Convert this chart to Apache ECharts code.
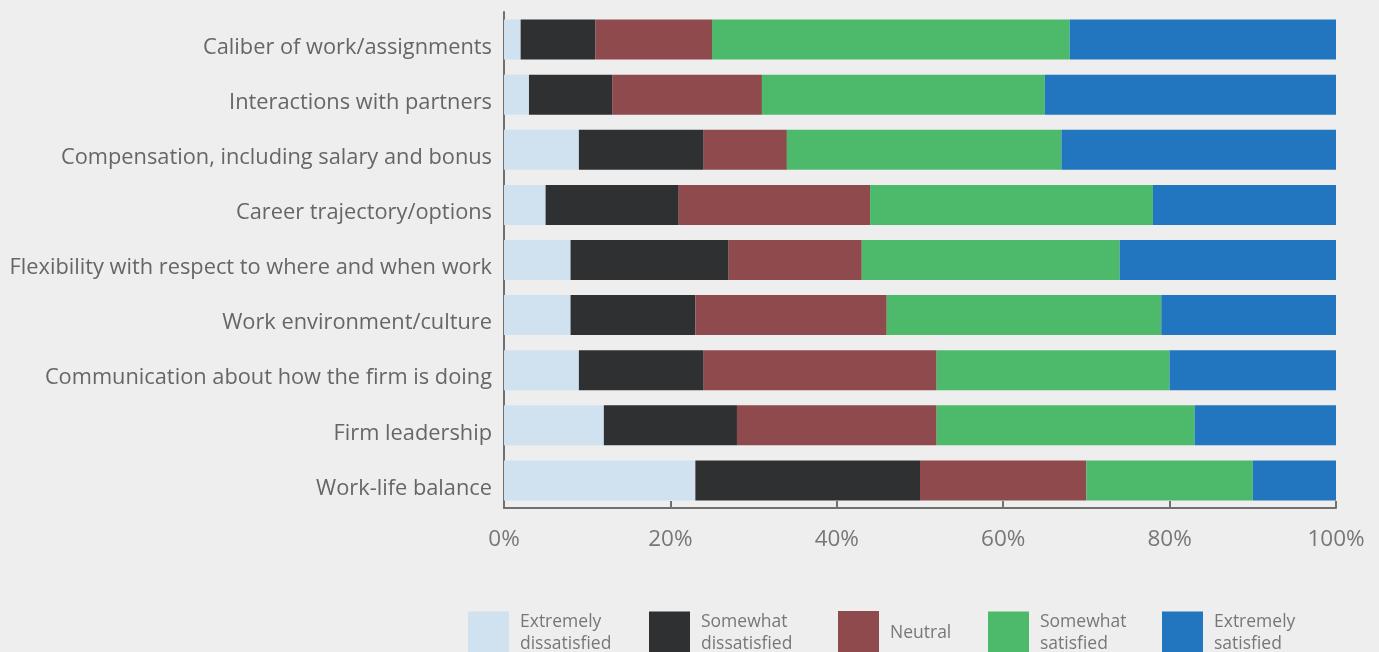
<!DOCTYPE html>
<html>
<head>
<meta charset="utf-8">
<script src="https://cdn.jsdelivr.net/npm/echarts@6/dist/echarts.min.js"></script>
<style>
  html, body { margin: 0; padding: 0; background: #edeeed; }
  #chart { width: 1379px; height: 652px; }
</style>
</head>
<body>
<div id="chart"></div>
<script>
// Survey items, top to bottom
const categories = [
  'Caliber of work/assignments',
  'Interactions with partners',
  'Compensation, including salary and bonus',
  'Career trajectory/options',
  'Flexibility with respect to where and when work',
  'Work environment/culture',
  'Communication about how the firm is doing',
  'Firm leadership',
  'Work-life balance'
];

// Share of respondents (%) per response level, same order as categories
const extremelyDissatisfied = [2, 3, 9, 5, 8, 8, 9, 12, 23];
const somewhatDissatisfied  = [9, 10, 15, 16, 19, 15, 15, 16, 27];
const neutral               = [14, 18, 10, 23, 16, 23, 28, 24, 20];
const somewhatSatisfied     = [43, 34, 33, 34, 31, 33, 28, 31, 20];
const extremelySatisfied    = [32, 35, 33, 22, 26, 21, 20, 17, 10];

const seriesNames = ['Extremely\ndissatisfied', 'Somewhat\ndissatisfied', 'Neutral', 'Somewhat\nsatisfied', 'Extremely\nsatisfied'];
const seriesValues = [extremelyDissatisfied, somewhatDissatisfied, neutral, somewhatSatisfied, extremelySatisfied];
const seriesColors = ['#d0e1f0', '#2f3032', '#8e4a4c', '#4dba6b', '#2276bf'];

const xTicks = [0, 20, 40, 60, 80, 100];

const FONT = '"Open Sans", "Noto Sans", sans-serif';

// One legend block per response level so each sits at its own spot
const legendLefts = [468, 649, 838, 988, 1162];
const legends = seriesNames.map((name, i) => ({
  data: [name],
  left: legendLefts[i],
  top: 611,
  padding: 0,
  orient: 'horizontal',
  itemWidth: 41,
  itemHeight: 44,
  itemGap: 0,
  icon: 'rect',
  selectedMode: false,
  textStyle: { color: '#777', fontSize: 17.5, fontFamily: FONT, lineHeight: 22, padding: [1, 0, 0, 6] }
}));

const chart = echarts.init(document.getElementById('chart'), null, { renderer: 'canvas' });
chart.setOption({
  backgroundColor: '#edeeed',
  animation: false,
  legend: legends,
  grid: { left: 504, right: 43, top: 12, bottom: 144, containLabel: false },
  xAxis: {
    type: 'value',
    min: 0,
    max: 100,
    interval: 20,
    axisLine: { show: true, lineStyle: { color: '#707070', width: 2 } },
    axisTick: { show: true, inside: true, length: 7, lineStyle: { color: '#707070', width: 2 } },
    splitLine: { show: false },
    axisLabel: {
      color: '#777',
      fontSize: 22.5,
      fontFamily: FONT,
      margin: 20,
      formatter: v => (xTicks.includes(v) ? v + '%' : '')
    }
  },
  yAxis: {
    type: 'category',
    data: categories,
    inverse: true,
    axisLine: { show: true, lineStyle: { color: '#707070', width: 2 } },
    axisTick: { show: false },
    axisLabel: {
      color: '#666',
      fontSize: 21.8,
      fontFamily: FONT,
      margin: 12,
      verticalAlign: 'top',
      lineHeight: 16
    }
  },
  series: seriesValues.map((vals, i) => ({
    name: seriesNames[i],
    type: 'bar',
    stack: 'total',
    data: vals,
    barWidth: 40,
    itemStyle: { color: seriesColors[i] },
    emphasis: { disabled: true }
  }))
});
</script>
</body>
</html>
